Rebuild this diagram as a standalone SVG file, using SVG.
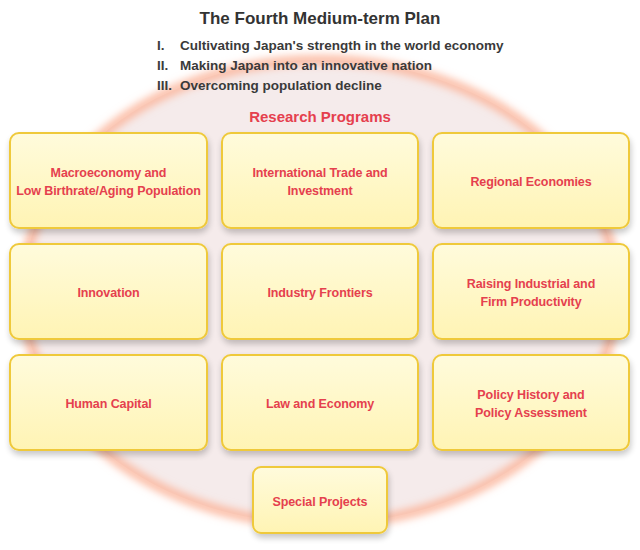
<svg xmlns="http://www.w3.org/2000/svg" width="640" height="550" viewBox="0 0 640 550">
<defs>
<linearGradient id="boxg" x1="0" y1="0" x2="0" y2="1">
<stop offset="0" stop-color="#fffbdc"/>
<stop offset="1" stop-color="#fff4b4"/>
</linearGradient>
<filter id="blur" x="-10%" y="-10%" width="120%" height="120%"><feGaussianBlur stdDeviation="4"/></filter>
<filter id="shadow" x="-10%" y="-10%" width="125%" height="130%">
<feGaussianBlur in="SourceAlpha" stdDeviation="3"/>
<feOffset dx="1" dy="4" result="b"/>
<feComponentTransfer in="b" result="s"><feFuncA type="linear" slope="0.22"/></feComponentTransfer>
<feMerge><feMergeNode in="s"/><feMergeNode in="SourceGraphic"/></feMerge>
</filter>
<style>
.box{fill:url(#boxg);stroke:#efc93a;stroke-width:2;filter:url(#shadow)}
.lbl{font-family:"Liberation Sans","Noto Sans",sans-serif;font-weight:bold;font-size:12.5px;letter-spacing:-0.1px;fill:#e5404e;text-anchor:middle}
.plan{font-family:"Liberation Sans","Noto Sans",sans-serif;font-weight:bold;font-size:13.5px;fill:#3a3a3a}
</style>
</defs>
<rect width="640" height="550" fill="#ffffff"/>
<g id="background-ring">
<ellipse cx="320" cy="292" rx="297" ry="232" fill="#f5ebeb"/>
<ellipse cx="320" cy="292" rx="297" ry="232" fill="none" stroke="#fbb59b" stroke-width="9" filter="url(#blur)"/>
</g>
<g id="title">
<text x="320" y="24" text-anchor="middle" font-family="'Liberation Sans','Noto Sans',sans-serif" font-weight="bold" font-size="17" fill="#333">The Fourth Medium-term Plan</text>
<text class="plan" x="157" y="50">I.</text><text class="plan" x="180" y="50">Cultivating Japan's strength in the world economy</text>
<text class="plan" x="157" y="70">II.</text><text class="plan" x="180" y="70">Making Japan into an innovative nation</text>
<text class="plan" x="157" y="90">III.</text><text class="plan" x="180" y="90">Overcoming population decline</text>
<text x="320" y="122" text-anchor="middle" font-family="'Liberation Sans','Noto Sans',sans-serif" font-weight="bold" font-size="15" fill="#e5404e">Research Programs</text>
</g>
<g id="connectors"/>
<g id="macro"><rect class="box" x="10" y="133" width="197" height="95" rx="9"/><text class="lbl" x="108.5" y="177">Macroeconomy and</text><text class="lbl" x="108.5" y="195">Low Birthrate/Aging Population</text></g>
<g id="trade"><rect class="box" x="222" y="133" width="196" height="95" rx="9"/><text class="lbl" x="320" y="177">International Trade and</text><text class="lbl" x="320" y="195">Investment</text></g>
<g id="regional"><rect class="box" x="433" y="133" width="196" height="95" rx="9"/><text class="lbl" x="531" y="186">Regional Economies</text></g>
<g id="innovation"><rect class="box" x="10" y="244" width="197" height="95" rx="9"/><text class="lbl" x="108.5" y="297">Innovation</text></g>
<g id="frontiers"><rect class="box" x="222" y="244" width="196" height="95" rx="9"/><text class="lbl" x="320" y="297">Industry Frontiers</text></g>
<g id="productivity"><rect class="box" x="433" y="244" width="196" height="95" rx="9"/><text class="lbl" x="531" y="288">Raising Industrial and</text><text class="lbl" x="531" y="306">Firm Productivity</text></g>
<g id="human"><rect class="box" x="10" y="355" width="197" height="95" rx="9"/><text class="lbl" x="108.5" y="408">Human Capital</text></g>
<g id="law"><rect class="box" x="222" y="355" width="196" height="95" rx="9"/><text class="lbl" x="320" y="408">Law and Economy</text></g>
<g id="policy"><rect class="box" x="433" y="355" width="196" height="95" rx="9"/><text class="lbl" x="531" y="399">Policy History and</text><text class="lbl" x="531" y="417">Policy Assessment</text></g>
<g id="special"><rect class="box" x="253" y="467" width="134" height="66" rx="8"/><text class="lbl" x="320" y="506">Special Projects</text></g>
</svg>
